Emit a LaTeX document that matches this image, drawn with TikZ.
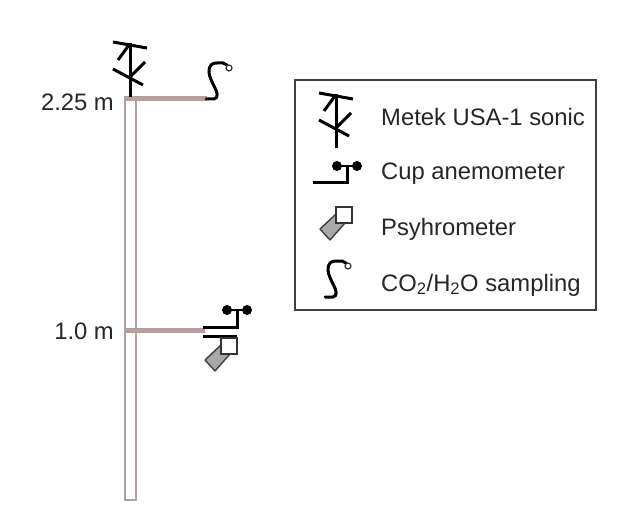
\documentclass[tikz,border=0pt]{standalone}
\usepackage{fontspec}
\setmainfont{Liberation Sans}
\usepackage{xcolor}
\usetikzlibrary{positioning}
\definecolor{mastbrown}{HTML}{B59F9F}
\definecolor{framegray}{HTML}{404040}
\definecolor{psygray}{HTML}{A8A8A8}
\tikzset{
    mast/.style={draw=mastbrown, line width=1.5pt},
    arm/.style={draw=mastbrown, line width=5pt},
    sym/.style={draw=black, line width=3pt},
    lab/.style={font=\fontsize{23.8}{28}\selectfont, inner sep=0pt, text=black!85},
    pics/sonic/.style={code={
        \draw[sym] (0,0) -- (0,-54);
        \draw[sym] (-17,-55) -- (17,-49);
        \draw[sym] (-12,-37) -- (-1,-52);
        \draw[sym] (-17,-28) -- (13,-12);
        \draw[sym] (15,-35) -- (0,-20);
    }},
    pics/cup/.style={code={
        \draw[sym] (-34,0) -- (0,0) -- (0,-17);
        \draw[sym, line width=1.5pt] (-10,-17) -- (10,-17);
        \fill (-10,-17) circle (5);
        \fill (10,-17) circle (5);
    }},
    pics/psy/.style={code={
        \draw[draw=black!75, fill=psygray, line width=1.4pt, line join=round] (-16,6) -- (-6,17) -- (9,0) -- (0,-9) -- cycle;
        \draw[draw=black!80, fill=white, line width=1.6pt] (0,0) rectangle (16,-16);
    }},
    pics/sampler/.style={code={
        \draw[sym, line cap=round] (-23,31) -- (-15,31) .. controls (-10,30) and (-12,24) .. (-14,20)
            .. controls (-17,14) and (-20,8) .. (-20,4) .. controls (-20,-3) and (-17,-5) .. (-12,-5)
            -- (-6,-5) -- (-2,-3);
        \draw[draw=black!80, line width=1.2pt] (0,0) circle (3);
    }},
}
\begin{document}
\begin{tikzpicture}[x=1pt, y=-1pt]
    \useasboundingbox (0,0) rectangle (643,524);
    \draw[mast] (125,99) rectangle (136,500);
    \draw[arm] (124,99) -- (207,99);
    \draw[arm] (124,330) -- (205,330);
    \pic at (130,97) {sonic};
    \pic at (229,68) {sampler};
    \pic at (237,327) {cup};
    \draw[sym] (203,336.5) -- (237,336.5);
    \pic at (221,354) {psy};
    \node[lab, anchor=base east] (lab225) at (114,111) {2.25 m};
    \node[lab, anchor=base east] (lab100) at (114,339) {1.0 m};
    \draw[draw=framegray, line width=1.5pt] (295,80) rectangle (596,310);
    \pic at (336,148) {sonic};
    \pic at (347,183) {cup};
    \pic at (336,223) {psy};
    \pic at (348,266) {sampler};
    \node[lab, anchor=base west] (labsonic) at (381,126) {Metek USA-1 sonic};
    \node[lab, anchor=base west] (labcup) at (381,180) {Cup anemometer};
    \node[lab, anchor=base west] (labpsy) at (381,235) {Psyhrometer};
    \node[lab, anchor=base west] (labco) at (381,291) {CO\textsubscript{2}/H\textsubscript{2}O sampling};
\end{tikzpicture}
\end{document}
